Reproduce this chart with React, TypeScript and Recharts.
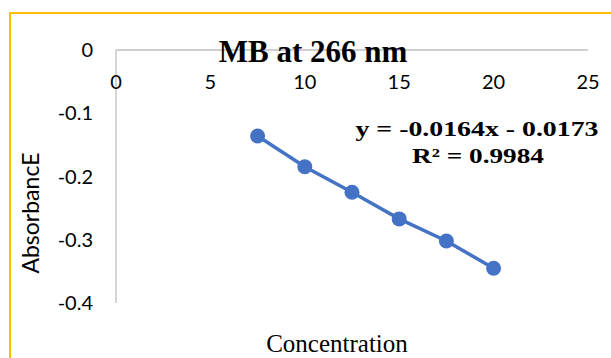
import { ScatterChart, Scatter, XAxis, YAxis } from "recharts";

const concentration = [7.5, 10, 12.5, 15, 17.5, 20];
const absorbance = [-0.136, -0.1845, -0.225, -0.267, -0.302, -0.345];
const xTicks = [0, 5, 10, 15, 20, 25];
const yTicks = [0, -0.1, -0.2, -0.3, -0.4];

const title = "MB at 266 nm";
const xTitle = "Concentration";
const yTitle = "AbsorbancE";
const equation = "y = -0.0164x - 0.0173";
const rSquared = "R² = 0.9984";

const data = concentration.map((c, i) => ({ x: c, y: absorbance[i] }));

const BLUE = "#4472C4";
const AXIS = "#BFBFBF";
const SANS = "Lato, 'Open Sans', sans-serif";
const SERIF = "'Liberation Serif', 'DejaVu Serif', serif";

// x labels sit under the axis line, inside the plot
const XTick = (props: any) => {
  const { x, y, payload } = props;
  return (
    <text
      x={x}
      y={y + 31}
      textAnchor="middle"
      dominantBaseline="central"
      fontFamily={SANS}
      fontSize={20}
      fill="#000"
    >
      {payload.value}
    </text>
  );
};

const Dot = (props: any) => <circle cx={props.cx} cy={props.cy} r={7.5} fill={BLUE} />;

const App = () => {
  return (
    <div
      style={{
        position: "absolute",
        left: 0,
        top: 0,
        width: 611,
        height: 358,
        overflow: "hidden",
        background: "#fff",
      }}
    >
      <div
        style={{
          position: "absolute",
          left: 9,
          top: 12,
          width: 700,
          height: 400,
          border: "2px solid #FFC000",
        }}
      />
      <div style={{ position: "absolute", left: 0, top: 0 }}>
        <ScatterChart
          width={611}
          height={358}
          margin={{ top: 20, right: 23, left: 0, bottom: 55 }}
        >
          <XAxis
            type="number"
            dataKey="x"
            orientation="top"
            height={30}
            domain={[0, 25]}
            ticks={xTicks}
            axisLine={{ stroke: AXIS, strokeWidth: 1.3 }}
            tickLine={false}
            tickSize={0}
            tickMargin={0}
            tick={<XTick />}
            interval={0}
          />
          <YAxis
            type="number"
            dataKey="y"
            width={116}
            domain={[-0.4, 0]}
            ticks={yTicks}
            axisLine={{ stroke: AXIS, strokeWidth: 1.3 }}
            tickLine={false}
            tickSize={0}
            tickMargin={23}
            tick={{ fontFamily: SANS, fontSize: 20, fill: "#000" }}
            interval={0}
          />
          <Scatter
            data={data}
            fill={BLUE}
            line={{ stroke: BLUE, strokeWidth: 3.5 }}
            shape={<Dot />}
            isAnimationActive={false}
          />
        </ScatterChart>
      </div>
      <svg
        width={611}
        height={358}
        style={{ position: "absolute", left: 0, top: 0, pointerEvents: "none" }}
      >
        <text
          x={313}
          y={62}
          textAnchor="middle"
          fontFamily={SERIF}
          fontWeight="bold"
          fontSize={31}
          fill="#000"
        >
          {title}
        </text>
        <text
          x={477}
          y={136}
          textAnchor="middle"
          fontFamily={SERIF}
          fontWeight="bold"
          fontSize={21}
          textLength={243}
          lengthAdjust="spacingAndGlyphs"
          fill="#000"
        >
          {equation}
        </text>
        <text
          x={478}
          y={163}
          textAnchor="middle"
          fontFamily={SERIF}
          fontWeight="bold"
          fontSize={21}
          textLength={132}
          lengthAdjust="spacingAndGlyphs"
          fill="#000"
        >
          {rSquared}
        </text>
        <text
          x={337}
          y={352}
          textAnchor="middle"
          fontFamily={SERIF}
          fontSize={25}
          fill="#000"
        >
          {xTitle}
        </text>
        <text
          x={30}
          y={213}
          textAnchor="middle"
          dominantBaseline="central"
          transform="rotate(-90, 30, 213)"
          fontFamily={SANS}
          fontSize={23}
          fill="#000"
        >
          {yTitle}
        </text>
      </svg>
    </div>
  );
};

export default App;
